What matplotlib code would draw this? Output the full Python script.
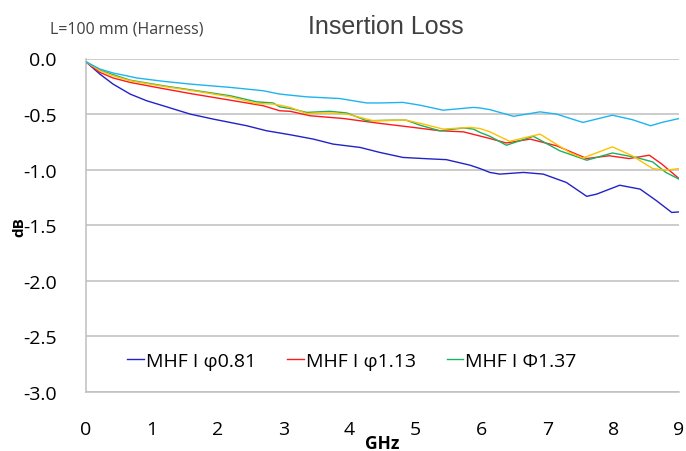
import matplotlib
matplotlib.use("Agg")
import matplotlib.pyplot as plt

plt.rcParams['font.family'] = ['Open Sans', 'DejaVu Sans']

# ---- data (GHz, dB) ----
blue_x = [0.0, 0.21, 0.41, 0.67, 0.92, 1.17, 1.58, 1.93, 2.44, 2.74, 2.94, 3.10, 3.45, 3.75, 4.16, 4.46, 4.81,
          5.12, 5.47, 5.83, 5.98, 6.13, 6.28, 6.64, 6.94, 7.29, 7.60, 7.75, 8.10, 8.41, 8.66, 8.89, 9.0]
blue_y = [-0.03, -0.14, -0.23, -0.32, -0.38, -0.425, -0.50, -0.545, -0.605, -0.65, -0.67, -0.686, -0.725, -0.77,
          -0.80, -0.845, -0.89, -0.90, -0.91, -0.96, -0.99, -1.025, -1.04, -1.025, -1.04, -1.115, -1.24, -1.22,
          -1.14, -1.175, -1.28, -1.385, -1.38]

red_x = [0.0, 0.21, 0.41, 0.67, 1.07, 1.58, 2.19, 2.69, 2.94, 3.10, 3.40, 3.91, 4.41, 4.97, 5.37, 5.73, 5.93,
         6.13, 6.38, 6.74, 7.14, 7.60, 7.94, 8.24, 8.55, 8.74, 9.0]
red_y = [-0.03, -0.125, -0.175, -0.215, -0.26, -0.315, -0.375, -0.425, -0.47, -0.475, -0.515, -0.54, -0.58,
         -0.62, -0.65, -0.66, -0.69, -0.72, -0.76, -0.725, -0.785, -0.90, -0.875, -0.90, -0.87, -0.95, -1.08]

green_x = [0.0, 0.21, 0.41, 0.67, 1.17, 1.68, 2.19, 2.59, 2.84, 2.94, 3.10, 3.35, 3.70, 3.96, 4.26, 4.66, 4.86,
           5.07, 5.37, 5.73, 5.88, 5.98, 6.13, 6.38, 6.79, 7.19, 7.60, 7.99, 8.35, 8.60, 8.80, 9.0]
green_y = [-0.03, -0.105, -0.145, -0.195, -0.245, -0.29, -0.335, -0.39, -0.40, -0.435, -0.45, -0.485, -0.475,
           -0.49, -0.56, -0.555, -0.555, -0.60, -0.65, -0.625, -0.635, -0.665, -0.70, -0.78, -0.70, -0.83,
           -0.915, -0.85, -0.89, -0.93, -1.025, -1.085]

yellow_x = [0.0, 0.21, 0.41, 0.67, 1.17, 1.68, 2.19, 2.59, 2.84, 2.94, 3.10, 3.35, 3.70, 3.96, 4.36, 4.86, 5.12,
            5.42, 5.83, 5.98, 6.13, 6.43, 6.89, 7.34, 7.54, 7.99, 8.29, 8.60, 8.80, 9.0]
yellow_y = [-0.03, -0.11, -0.155, -0.20, -0.25, -0.295, -0.345, -0.405, -0.41, -0.42, -0.44, -0.495, -0.49,
            -0.50, -0.56, -0.555, -0.59, -0.635, -0.62, -0.63, -0.66, -0.745, -0.68, -0.845, -0.895, -0.795,
            -0.875, -0.99, -1.005, -0.99]

cyan_x = [0.0, 0.21, 0.41, 0.77, 1.17, 1.58, 2.19, 2.69, 2.94, 3.10, 3.35, 3.85, 4.26, 4.46, 4.81, 5.07, 5.42,
          5.88, 5.98, 6.13, 6.49, 6.89, 7.14, 7.54, 7.99, 8.29, 8.57, 8.74, 9.0]
cyan_y = [-0.03, -0.095, -0.13, -0.175, -0.205, -0.23, -0.26, -0.29, -0.32, -0.33, -0.345, -0.36, -0.40, -0.40,
          -0.395, -0.42, -0.465, -0.44, -0.445, -0.46, -0.52, -0.48, -0.50, -0.575, -0.51, -0.55, -0.605,
          -0.575, -0.54]

labels = ['MHF I φ0.81', 'MHF I φ1.13', 'MHF I Φ1.37']
x_ticks = [0, 1, 2, 3, 4, 5, 6, 7, 8, 9]
y_ticks = [0.0, -0.5, -1.0, -1.5, -2.0, -2.5, -3.0]

fig = plt.figure(figsize=(6.86, 4.52), dpi=100)
ax = fig.add_axes([86/686, 1-393/452, (679-86)/686, (393-59.5)/452])
H = 393 - 59.5
W = 679 - 86

grid_c = '#BFBFBF'
for yv in y_ticks:
    ax.axhline(yv, color=grid_c, lw=1.1, zorder=1)

lw = 1.0
l1, = ax.plot(blue_x, blue_y, color='#2222C8', lw=lw, zorder=3)
l2, = ax.plot(red_x, red_y, color='#FF1A1A', lw=lw, zorder=3)
l3, = ax.plot(green_x, green_y, color='#1DB060', lw=lw, zorder=3)
l4, = ax.plot(yellow_x, yellow_y, color='#FFC000', lw=lw, zorder=3)
l5, = ax.plot(cyan_x, cyan_y, color='#1EB4F0', lw=lw, zorder=3)

ax.set_xlim(0, 9)
ax.set_ylim(-3.0, 0.0)
ax.set_xticks(x_ticks)
ax.set_yticks(y_ticks)
ax.set_yticklabels([f'{v:.1f}' for v in y_ticks])
ax.tick_params(length=0, labelsize=14, colors='black')
ax.tick_params(axis='y', pad=21)
ax.tick_params(axis='x', pad=20)

for s in ['top', 'right']:
    ax.spines[s].set_visible(False)
ax.spines['left'].set_color(grid_c)
ax.spines['left'].set_linewidth(1.1)
ax.spines['bottom'].set_color(grid_c)
ax.spines['bottom'].set_linewidth(1.1)

ax.set_ylabel('dB', fontsize=11, fontweight='bold')
ax.yaxis.set_label_coords((26-86)/W, (393-227)/H)
ax.set_xlabel('GHz', fontsize=12.5, fontweight='bold')
ax.xaxis.set_label_coords((382-86)/W, -(435-393)/H)

leg = ax.legend([l1, l2, l3], labels, loc='center', ncol=3,
                bbox_to_anchor=((352-86)/W, (393-362)/H),
                frameon=True, fontsize=14, handlelength=0.85, handletextpad=0.1,
                columnspacing=1.6, borderpad=0.3)
leg.get_frame().set_facecolor('white')
leg.get_frame().set_edgecolor('none')
leg.get_frame().set_alpha(1)
leg.set_zorder(5)

fig.text(386/686, 1-27/452, 'Insertion Loss', ha='center', va='center', fontsize=18,
         color='#404040', family=['Liberation Sans', 'DejaVu Sans'])
fig.text(50/686, 1-30/452, 'L=100 mm (Harness)', ha='left', va='center', fontsize=11.5,
         color='#404040')

fig.savefig('out.png', dpi=100)
